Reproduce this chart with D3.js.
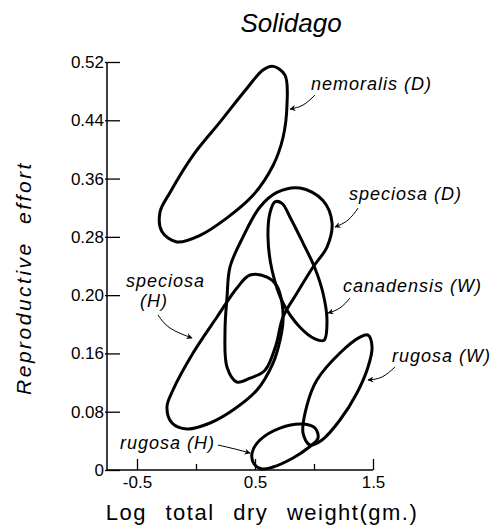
<!DOCTYPE html>
<html>
<head>
<meta charset="utf-8">
<script src="https://cdn.jsdelivr.net/npm/d3@7"></script>
<style>
  body { margin: 0; background: #fff; }
  text { font-family: "Liberation Sans", Arial, sans-serif; fill: #000; }
</style>
</head>
<body>
<div id="chart-area"></div>
<script>
// tick labels as printed on the figure (evenly spaced on the page)
const yTicks = [0, 0.08, 0.16, 0.20, 0.28, 0.36, 0.44, 0.52]
const xMajor = [-0.5, 0.5, 1.5]
const xMinor = [0, 1.0]

// outlines of each group, [log dry weight, reproductive effort]
const nemoralisD = [[0.653,0.514],[0.754,0.502],[0.771,0.461],[0.737,0.416],[0.653,0.378],[0.483,0.337],
  [0.263,0.306],[0.034,0.282],[-0.161,0.273],[-0.288,0.287],[-0.305,0.314],[-0.220,0.341],
  [-0.025,0.392],[0.203,0.4375],[0.432,0.484],[0.568,0.509]]
const speciosaD = [[0.881,0.347],[1.076,0.330],[1.153,0.299],[1.110,0.266],[0.992,0.2386],[0.856,0.2029],
  [0.737,0.185],[0.678,0.1658],[0.585,0.137],[0.458,0.126],[0.347,0.1207],[0.263,0.141],
  [0.246,0.176],[0.263,0.1987],[0.288,0.2386],[0.398,0.2797],[0.542,0.321],[0.686,0.341]]
const canadensisW = [[0.669,0.328],[0.627,0.313],[0.610,0.280],[0.644,0.2345],[0.737,0.1946],[0.881,0.178],
  [1.008,0.170],[1.085,0.169],[1.110,0.183],[1.076,0.2029],[1.008,0.237],[0.907,0.2715],
  [0.797,0.307],[0.729,0.326]]
const speciosaH = [[0.458,0.2276],[0.602,0.2248],[0.686,0.2125],[0.729,0.1946],[0.737,0.1816],[0.712,0.169],
  [0.653,0.1468],[0.517,0.1098],[0.314,0.0823],[0.119,0.0645],[-0.076,0.0563],[-0.203,0.0645],
  [-0.246,0.0865],[-0.195,0.1098],[-0.025,0.1603],[0.178,0.185],[0.347,0.2098]]
const rugosaW = [[1.458,0.1726],[1.492,0.1644],[1.458,0.1413],[1.364,0.1057],[1.220,0.0686],[1.068,0.0412],
  [0.966,0.0343],[0.907,0.0508],[0.941,0.0892],[1.025,0.1235],[1.220,0.1603],[1.390,0.1712]]
const rugosaH = [[0.475,0.0233],[0.542,0.0412],[0.712,0.0576],[0.907,0.0631],[1.008,0.0576],[1.034,0.0439],
  [0.949,0.0302],[0.822,0.0165],[0.653,0.0041],[0.559,0.0014],[0.492,0.0082]]

const loops = [nemoralisD, speciosaD, canadensisW, speciosaH, rugosaW, rugosaH]

// labels: text lines with anchor [x, y] in data units
const labels = [
  { text: "nemoralis (D)", at: [0.975, 0.481] },
  { text: "speciosa (D)", at: [1.297, 0.3305] },
  { text: "canadensis (W)", at: [1.246, 0.2042] },
  { text: "rugosa (W)", at: [1.661, 0.1482] },
  { text: "speciosa", at: [-0.593, 0.2111] },
  { text: "(H)", at: [-0.475, 0.1918] },
  { text: "rugosa (H)", at: [-0.644, 0.0288] }
]
const arrows = [
  [[1.008,0.4746],[0.907,0.4609],[0.797,0.4554]],
  [[1.373,0.3195],[1.288,0.303],[1.178,0.2934]],
  [[1.305,0.198],[1.220,0.1912],[1.119,0.1877]],
  [[1.686,0.1413],[1.576,0.1276],[1.458,0.1235]],
  [[-0.322,0.1864],[-0.220,0.1774],[-0.034,0.1706]],
  [[0.186,0.0343],[0.331,0.0288],[0.458,0.0233]]
]

const svgWidth = 493
const svgHeight = 532
const plotTop = 62
const plotBottom = 470

const svg = d3.select("#chart-area")
  .append("svg")
  .attr("width", svgWidth)
  .attr("height", svgHeight)

const x = d3.scaleLinear().domain([-0.5, 1.5]).range([137, 373])
// printed ticks are evenly spaced, so use a piecewise scale through them
const y = d3.scaleLinear()
  .domain(yTicks)
  .range(yTicks.map((d, i) => plotBottom - i * (plotBottom - plotTop) / (yTicks.length - 1)))

const xAxisLeft = 107

svg.append("defs").append("marker")
  .attr("id", "head")
  .attr("viewBox", "0 0 10 10")
  .attr("refX", 9).attr("refY", 5)
  .attr("markerWidth", 9).attr("markerHeight", 6)
  .attr("markerUnits", "userSpaceOnUse")
  .attr("orient", "auto")
  .append("path")
  .attr("d", "M0,0 L10,5 L0,10 L3,5 Z")
  .attr("fill", "#000")

// axes
svg.append("line")
  .attr("x1", xAxisLeft).attr("x2", xAxisLeft)
  .attr("y1", plotTop).attr("y2", plotBottom)
  .attr("stroke", "#000").attr("stroke-width", 1.5)
svg.append("line")
  .attr("x1", xAxisLeft).attr("x2", x(1.5))
  .attr("y1", plotBottom).attr("y2", plotBottom)
  .attr("stroke", "#000").attr("stroke-width", 1.5)

const yAxis = svg.append("g")
  .attr("transform", `translate(${xAxisLeft},0)`)
  .call(d3.axisLeft(y).tickValues(yTicks)
    .tickSizeInner(-13).tickSizeOuter(0).tickPadding(3)
    .tickFormat(d => d === 0 ? "0" : d.toFixed(2)))
yAxis.select(".domain").remove()
yAxis.selectAll("line").attr("stroke-width", 1.3).attr("x1", -2)
yAxis.selectAll("text").style("font-size", "17px")

const xAxis = svg.append("g")
  .attr("transform", `translate(0,${plotBottom})`)
  .call(d3.axisBottom(x).tickValues(xMajor)
    .tickSizeInner(-11).tickSizeOuter(0).tickPadding(6)
    .tickFormat(d3.format(".1f")))
xAxis.select(".domain").remove()
xAxis.selectAll("line").attr("stroke-width", 1.3)
xAxis.selectAll("text").style("font-size", "17px").text(d => d === -0.5 ? "-0.5" : d3.format(".1f")(d))

const xMinorAxis = svg.append("g")
  .attr("transform", `translate(0,${plotBottom})`)
  .call(d3.axisBottom(x).tickValues(xMinor).tickSizeInner(-6).tickSizeOuter(0).tickFormat(""))
xMinorAxis.select(".domain").remove()
xMinorAxis.selectAll("line").attr("stroke-width", 1.3)

// loops
const loopLine = d3.line()
  .x(d => x(d[0])).y(d => y(d[1]))
  .curve(d3.curveCatmullRomClosed.alpha(0.5))

svg.append("g").selectAll("path")
  .data(loops)
  .enter().append("path")
  .attr("d", loopLine)
  .attr("fill", "none")
  .attr("stroke", "#000")
  .attr("stroke-width", 3)
  .attr("stroke-linejoin", "round")

// annotations
const arrowLine = d3.line()
  .x(d => x(d[0])).y(d => y(d[1]))
  .curve(d3.curveNatural)

svg.append("g").selectAll("path")
  .data(arrows)
  .enter().append("path")
  .attr("d", arrowLine)
  .attr("fill", "none")
  .attr("stroke", "#000")
  .attr("stroke-width", 1)
  .attr("marker-end", "url(#head)")

svg.append("g").selectAll("text")
  .data(labels)
  .enter().append("text")
  .attr("x", d => x(d.at[0]))
  .attr("y", d => y(d.at[1]))
  .style("font-size", "18px")
  .style("font-style", "italic")
  .style("letter-spacing", "1px")
  .text(d => d.text)

// titles
svg.append("text")
  .attr("x", 291).attr("y", 32)
  .attr("text-anchor", "middle")
  .style("font-size", "26px")
  .style("font-style", "italic")
  .text("Solidago")

svg.append("text")
  .attr("transform", "translate(31,278) rotate(-90)")
  .attr("text-anchor", "middle")
  .style("font-size", "21px")
  .style("font-style", "italic")
  .style("letter-spacing", "2.5px")
  .style("word-spacing", "9px")
  .text("Reproductive effort")

svg.append("text")
  .attr("x", 262).attr("y", 520)
  .attr("text-anchor", "middle")
  .style("font-size", "22px")
  .style("letter-spacing", "1.5px")
  .style("word-spacing", "11px")
  .text("Log total dry weight(gm.)")
</script>
</body>
</html>
